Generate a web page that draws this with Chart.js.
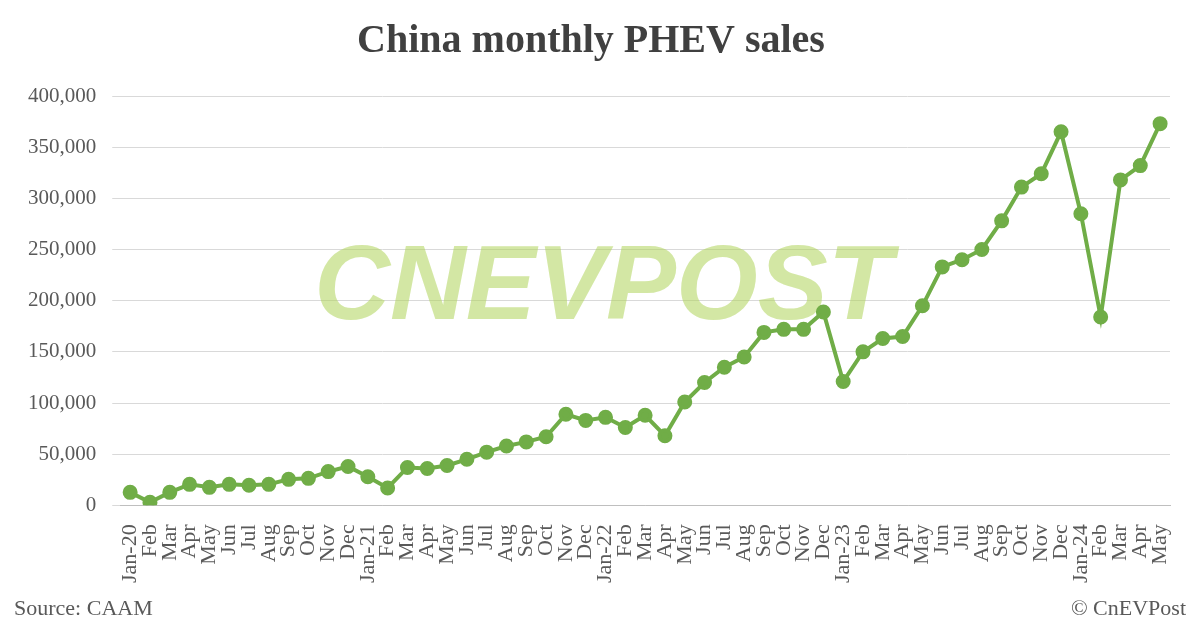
<!DOCTYPE html>
<html>
<head>
<meta charset="utf-8">
<script src="https://cdn.jsdelivr.net/npm/chart.js@4"></script>
<style>
  html, body { margin: 0; padding: 0; background: #fff; }
  #wrap { width: 1200px; height: 628px; }
</style>
</head>
<body>
<div id="wrap"><canvas id="phevChart"></canvas></div>
<script>
const months = ["Jan", "Feb", "Mar", "Apr", "May", "Jun", "Jul", "Aug", "Sep", "Oct", "Nov", "Dec"];
const labels = [];
for (let y = 20; y <= 24; y++) {
  months.forEach((m, i) => {
    if (y === 24 && i > 4) return;
    labels.push(i === 0 ? m + "-" + y : m);
  });
}

const sales = [
  12700, 3000, 12700, 20500, 17600, 20500, 19600, 20500, 25400, 26400, 33000, 38000,
  28000, 17000, 37000, 36000, 39000, 45000, 52000, 58000, 62000, 67000, 89000, 83000,
  86000, 76000, 88000, 68000, 101000, 120000, 135000, 145000, 169000, 172000, 172000, 189000,
  121000, 150000, 163000, 165000, 195000, 233000, 240000, 250000, 278000, 311000, 324000, 365000,
  285000, 184000, 318000, 332000, 373000
];

const serif = "'Liberation Serif', 'DejaVu Serif', serif";

const extras = {
  id: "extras",
  beforeDatasetsDraw(chart) {
    const { ctx } = chart;
    ctx.save();
    ctx.font = "italic bold 105px 'Liberation Sans', sans-serif";
    ctx.fillStyle = "rgba(175, 212, 90, 0.55)";
    ctx.textAlign = "center";
    ctx.textBaseline = "middle";
    ctx.fillText("CNEVPOST", 603, 290);
    ctx.restore();
  },
  afterDraw(chart) {
    const { ctx } = chart;
    ctx.save();
    ctx.font = "22px " + serif;
    ctx.fillStyle = "#595959";
    ctx.textBaseline = "middle";
    ctx.textAlign = "left";
    ctx.fillText("Source: CAAM", 14, 609);
    ctx.textAlign = "right";
    ctx.fillText("© CnEVPost", 1186, 609);
    ctx.restore();
  }
};

new Chart(document.getElementById("phevChart"), {
  type: "line",
  data: {
    labels: labels,
    datasets: [{
      data: sales,
      borderColor: "#70ad47",
      backgroundColor: "#70ad47",
      borderWidth: 4,
      pointRadius: 5.5,
      pointHoverRadius: 5.5,
      tension: 0,
    }],
  },
  options: {
    responsive: true,
    maintainAspectRatio: false,
    animation: false,
    layout: { padding: { left: 12, right: 30, top: 0, bottom: 34 } },
    plugins: {
      legend: { display: false },
      tooltip: { enabled: false },
      title: {
        display: true,
        text: "China monthly PHEV sales",
        color: "#404040",
        font: { family: serif, size: 40, weight: "bold" },
        padding: { top: 18, bottom: 30 },
      },
    },
    scales: {
      x: {
        offset: true,
        grid: { display: false },
        border: { color: "#bfbfbf" },
        ticks: {
          color: "#595959",
          font: { family: serif, size: 22 },
          minRotation: 90,
          maxRotation: 90,
          autoSkip: false,
          padding: 11,
        },
      },
      y: {
        min: 0,
        max: 400000,
        grid: { color: "#d9d9d9" },
        border: { display: false },
        ticks: {
          stepSize: 50000,
          color: "#595959",
          font: { family: serif, size: 21 },
          padding: 16,
          callback: (v) => v.toLocaleString("en-US"),
        },
      },
    },
  },
  plugins: [extras],
});
</script>
</body>
</html>
